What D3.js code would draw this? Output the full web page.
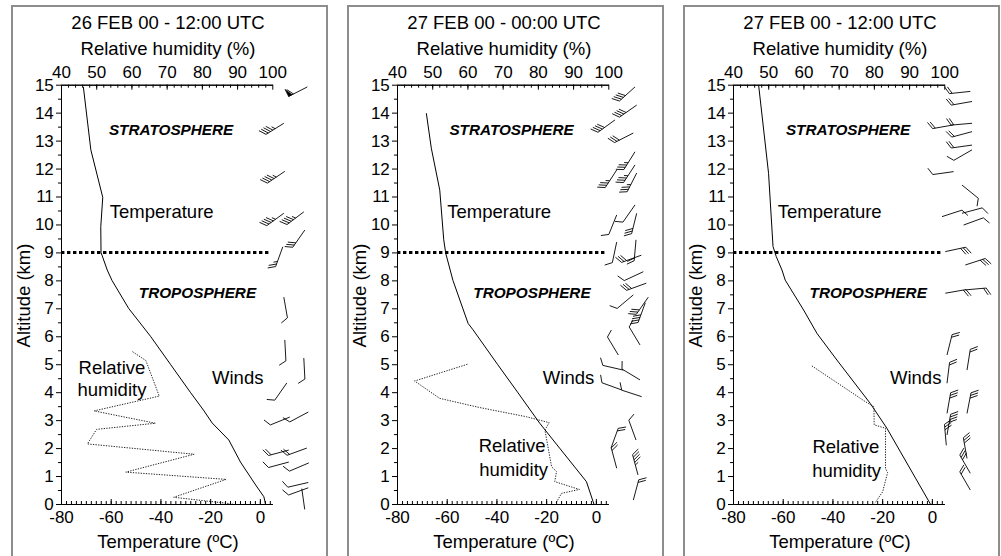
<!DOCTYPE html>
<html><head><meta charset="utf-8">
<script src="https://cdn.jsdelivr.net/npm/d3@7"></script>
<style>body{margin:0;background:#fff}svg{display:block}</style>
</head><body>
<svg id="c" width="1001" height="556"></svg>
<script>
// ---------------- DATA ----------------
const panelTitles = ["26 FEB 00 - 12:00 UTC", "27 FEB 00 - 00:00 UTC", "27 FEB 00 - 12:00 UTC"];
const tempTicks = [-80, -60, -40, -20, 0];
const rhTicks = [40, 50, 60, 70, 80, 90, 100];
const altTicks = d3.range(0, 16);
const tropopauseAlt = 9;

// temperature profiles: [altitude km, temperature °C]
const temp26_12 = [[14.92,-71],[12.67,-68],[10.97,-63.2],[9.92,-64],[9.0,-63.9],[8.37,-61.4],[8.0,-59.5],[7.0,-52.8],[6.0,-44],[5.0,-36],[4.0,-28],[3.36,-22.7],[2.9,-19.2],[2.29,-12.5],[1.5,-7.8],[0.68,-1.7],[0.26,1.6],[0,2.3]];
const temp27_00 = [[13.98,-68.2],[12.73,-66.2],[11.23,-62.8],[9.45,-61.2],[8.97,-60.4],[8.0,-57.5],[6.46,-51.4],[6.23,-49.4],[5.0,-39.6],[4.0,-31.5],[2.89,-22.6],[2.0,-14.6],[0.8,-3.8],[0,-0.8]];
const temp27_12 = [[14.99,-69.7],[11.83,-65.7],[9.21,-63.9],[8.85,-62.6],[8.37,-60.3],[8.01,-59],[6.94,-51.6],[6.1,-46.2],[5.15,-38.2],[3.6,-24.8],[2.71,-18.1],[0,-0.6]];

// relative humidity profiles: [altitude km, RH %]
const rh26_12 = [[5.45,60.3],[5.13,64.1],[3.86,67.9],[3.33,49.4],[2.89,66.8],[2.67,50.1],[2.15,47.5],[1.78,77.8],[1.14,58.4],[0.88,86.9],[0.24,72],[0,88.8]];
const rh27_00 = [[5.0,60.0],[4.4,45.0],[3.78,52.1],[3.45,63.5],[3.12,76.8],[2.91,83.2],[2.65,82.0],[1.33,83.9],[1.16,85.3],[0.8,84.8],[0.52,91.8],[0.38,86.7],[0.02,85.1]];
const rh27_12 = [[4.94,62.4],[3.66,77.6],[3.48,80],[2.83,80.1],[2.71,83.3],[1.28,83.3],[1.12,83.9],[0.44,82.5],[0.03,80.3]];

// winds: [altitude km, column offset, direction °, speed kt]
const winds26_12 = [[14.92,35,243,60],[13.62,11.5,238,45],[11.9,12.5,236,45],[10.4,11.5,234,45],[10.45,31.5,233,45],[9.8,32.5,215,30],[9.2,10.5,200,25],[7.4,11.5,170,10],[5.87,12.5,177,10],[5.22,31.5,177,10],[4.33,14.5,215,10],[3.11,17.5,248,10],[3.29,36,242,10],[1.93,16.5,255,20],[2.0,34.5,250,20],[1.5,16.5,255,10],[1.47,36.5,247,10],[0.77,36,257,10],[0.58,36,250,10],[0.55,29.5,172,0]];
const winds27_00 = [[14.92,26.7,228,40],[14.27,28.4,235,40],[13.74,6.7,234,40],[13.27,25,243,30],[12.6,26.7,212,35],[12.13,26.7,213,35],[11.95,8.4,213,35],[11.84,28.4,207,35],[10.34,8.4,202,10],[10.7,26.7,215,10],[10.4,28.4,194,30],[9.37,8.4,192,10],[9.45,27.7,185,20],[8.9,33,250,30],[8.31,35,245,10],[7.9,38,250,30],[7.4,40,215,30],[7.2,37,200,40],[7.48,25,230,10],[5.33,10,329,10],[5.69,31.7,329,10],[4.79,15,283,10],[4.44,31.7,301,10],[4.08,13.4,290,10],[3.84,33.4,288,10],[1.28,8.4,345,20],[2.0,2.7,20,20],[2.29,27.7,340,10],[1.04,29.7,345,45],[0.14,25,15,20]];
const winds27_12 = [[14.76,26,264,20],[14.4,27.7,260,20],[13.62,27.7,265,20],[13.56,9,260,20],[13.32,27.7,255,20],[12.84,27.7,262,20],[12.67,27.7,240,10],[11.89,9.3,262,10],[11.41,17.7,129,10],[10.28,-2.3,72,10],[10.4,17.7,75,10],[9.98,19.3,70,10],[9.03,1,78,30],[8.55,21,72,30],[7.54,1,80,20],[7.66,21,85,20],[5.33,2.7,14,20],[4.79,22.7,9,20],[4.32,2.7,7,20],[3.24,2.7,10,30],[3.24,22.7,11,30],[2.47,2.7,10,40],[2.1,2,355,30],[1.63,22.7,350,30],[1.1,26,330,30],[0.5,26,330,20]];

// in-plot labels: [text, temperature position, altitude position]
const labels26_12 = [["Temperature",-39.5,10.48],["Winds",-8.9,4.52],["Relative",-59.5,4.88],["humidity",-59.5,4.11]];
const labels27_00 = [["Temperature",-38.9,10.48],["Winds",-11,4.52],["Relative",-33.7,2.09],["humidity",-33.1,1.25]];
const labels27_12 = [["Temperature",-41.1,10.48],["Winds",-6.5,4.52],["Relative",-34.6,2.05],["humidity",-34.3,1.22]];
const layerLabels26_12 = [["STRATOSPHERE",-35.7,13.38],["TROPOSPHERE",-25.1,7.56]];
const layerLabels27_00 = [["STRATOSPHERE",-33.9,13.38],["TROPOSPHERE",-25.7,7.56]];
const layerLabels27_12 = [["STRATOSPHERE",-33.7,13.38],["TROPOSPHERE",-25.6,7.56]];

const panels = [
  {title: panelTitles[0], temp: temp26_12, rh: rh26_12, winds: winds26_12, labels: labels26_12, layers: layerLabels26_12},
  {title: panelTitles[1], temp: temp27_00, rh: rh27_00, winds: winds27_00, labels: labels27_00, layers: layerLabels27_00},
  {title: panelTitles[2], temp: temp27_12, rh: rh27_12, winds: winds27_12, labels: labels27_12, layers: layerLabels27_12}
];

// ---------------- LAYOUT ----------------
const FONT = "'Liberation Sans', Arial, Helvetica, sans-serif";
const panelStep = 336;
const plotL = 61, plotR = 272.3, plotT = 84.7, plotB = 504;
const svg = d3.select("#c");

function drawBarb(g, bx, by, dirDeg, spd) {
  const L = 21, F = 8, S = 2.7;
  const a = dirDeg * Math.PI / 180;
  const ux = Math.sin(a), uy = -Math.cos(a);
  const px = -uy, py = ux;
  const fx = 0.5 * ux + 0.87 * px, fy = 0.5 * uy + 0.87 * py;
  const tx = bx + L * ux, ty = by + L * uy;
  let path = `M${bx},${by}L${tx},${ty}`;
  let s = Math.round(spd / 5) * 5;
  let pos = 0;
  let tri = "";
  while (s >= 50) {
    const ax = tx - pos * ux, ay = ty - pos * uy;
    const cx = ax - 4 * ux, cy = ay - 4 * uy;
    tri += `M${ax},${ay}L${ax + F * px},${ay + F * py}L${cx},${cy}Z`;
    pos += 5.5; s -= 50;
  }
  while (s >= 10) {
    const ax = tx - pos * ux, ay = ty - pos * uy;
    path += `M${ax},${ay}L${ax + F * fx},${ay + F * fy}`;
    pos += S; s -= 10;
  }
  if (s >= 5) {
    if (pos === 0) pos = S;
    const ax = tx - pos * ux, ay = ty - pos * uy;
    path += `M${ax},${ay}L${ax + F * 0.5 * fx},${ay + F * 0.5 * fy}`;
  }
  g.append("path").attr("d", path).attr("fill", "none").attr("stroke", "#000").attr("stroke-width", 0.9);
  if (tri) g.append("path").attr("d", tri).attr("fill", "#000").attr("stroke", "#000").attr("stroke-width", 0.6);
}

panels.forEach((p, i) => {
  const g = svg.append("g").attr("transform", `translate(${i * panelStep},0)`);
  g.append("rect").attr("x", 12).attr("y", 6).attr("width", 315).attr("height", 570)
    .attr("fill", "none").attr("stroke", "#8d8d8d").attr("stroke-width", 2);

  const xT = d3.scaleLinear().domain([-80, 5]).range([plotL, plotR]);
  const xR = d3.scaleLinear().domain([40, 100]).range([plotL, plotR]);
  const y = d3.scaleLinear().domain([0, 15]).range([plotB, plotT]);
  const xW = d3.scaleLinear().domain([0, 40]).range([plotR, plotR + 40]);

  // titles
  g.append("text").attr("x", 168).attr("y", 28.6).attr("text-anchor", "middle")
    .style("font-family", FONT).style("font-size", "18.5px").text(p.title);
  g.append("text").attr("x", 168).attr("y", 54.6).attr("text-anchor", "middle")
    .style("font-family", FONT).style("font-size", "18.5px").text("Relative humidity (%)");
  g.append("text").attr("x", 168).attr("y", 548.3).attr("text-anchor", "middle")
    .style("font-family", FONT).style("font-size", "18.5px").text("Temperature (ºC)");
  g.append("text").attr("transform", `translate(29.5,295.5) rotate(-90)`).attr("text-anchor", "middle")
    .style("font-family", FONT).style("font-size", "18.5px").text("Altitude (km)");

  // tropopause
  g.append("path").attr("d", d3.line()([[xT(-80), y(tropopauseAlt)], [xT(3.5), y(tropopauseAlt)]]))
    .attr("stroke", "#000").attr("stroke-width", 3).attr("stroke-dasharray", "3.4,2.6").attr("fill", "none");

  // temperature
  g.append("path").datum(p.temp)
    .attr("d", d3.line().x(d => xT(d[1])).y(d => y(d[0])))
    .attr("fill", "none").attr("stroke", "#000").attr("stroke-width", 1);
  // RH
  g.append("path").datum(p.rh)
    .attr("d", d3.line().x(d => xR(d[1])).y(d => y(d[0])))
    .attr("fill", "none").attr("stroke", "#222").attr("stroke-width", 1).attr("stroke-dasharray", "1.3,1.3");

  // winds
  const wg = g.append("g");
  p.winds.forEach(w => drawBarb(wg, xW(w[1]), y(w[0]), w[2], w[3]));

  // labels
  p.labels.forEach(l => g.append("text").attr("x", xT(l[1])).attr("y", y(l[2])).attr("dy", "0.36em")
    .attr("text-anchor", "middle").style("font-family", FONT).style("font-size", "18.5px").text(l[0]));
  p.layers.forEach(l => g.append("text").attr("x", xT(l[1])).attr("y", y(l[2])).attr("dy", "0.36em")
    .attr("text-anchor", "middle").style("font-family", FONT).style("font-size", "15.3px")
    .style("font-weight", "bold").style("font-style", "italic").text(l[0]));

  // axes
  const styleAxis = sel => {
    sel.selectAll("text").style("font-family", FONT).style("font-size", "17px").attr("fill", "#000");
    sel.selectAll("line,path").attr("stroke", "#000").attr("stroke-width", 1);
  };
  // left
  g.append("g").attr("transform", `translate(${plotL},0)`)
    .call(d3.axisLeft(y).tickValues(d3.range(0.5, 15, 1)).tickSize(3).tickFormat("").tickSizeOuter(0)).call(styleAxis);
  g.append("g").attr("transform", `translate(${plotL},0)`)
    .call(d3.axisLeft(y).tickValues(altTicks).tickSize(5).tickPadding(2.2).tickSizeOuter(0)).call(styleAxis);
  // bottom (ticks inward)
  g.append("g").attr("transform", `translate(0,${plotB})`)
    .call(d3.axisBottom(xT).tickValues(d3.range(-78, 5, 2)).tickSizeInner(-3).tickFormat("").tickSizeOuter(0)).call(styleAxis);
  g.append("g").attr("transform", `translate(0,${plotB})`)
    .call(d3.axisBottom(xT).tickValues(tempTicks).tickSizeInner(-5).tickPadding(6.7).tickSizeOuter(0).tickFormat(d => d < 0 ? "-" + Math.abs(d) : d)).call(styleAxis);
  // top (ticks inward)
  g.append("g").attr("transform", `translate(0,${plotT})`)
    .call(d3.axisTop(xR).tickValues(d3.range(42, 100, 2)).tickSizeInner(-3).tickFormat("").tickSizeOuter(0)).call(styleAxis);
  g.append("g").attr("transform", `translate(0,${plotT})`)
    .call(d3.axisTop(xR).tickValues(rhTicks).tickSizeInner(-5).tickPadding(6.7).tickSizeOuter(0)).call(styleAxis);
});
</script>
</body></html>
